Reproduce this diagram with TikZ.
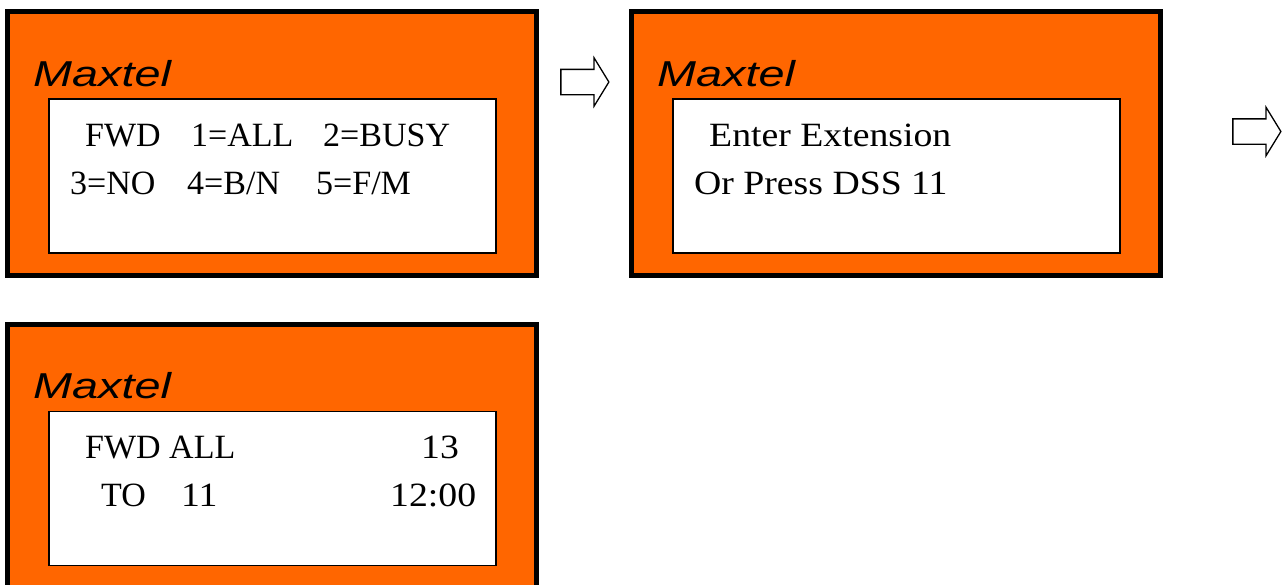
\documentclass[tikz,border=0pt]{standalone}
\usepackage{fontspec}
\setmainfont{Liberation Serif}
\newfontfamily\lcdfont[FakeStretch=1.0]{Liberation Serif}
\newfontfamily\lcdwidefont[FakeStretch=1.11]{Liberation Serif}
\newfontfamily\brandfont[FakeStretch=1.3]{Liberation Sans}
\usetikzlibrary{positioning,shapes.arrows}
\definecolor{phone}{HTML}{FF6600}
\tikzset{
    panel/.style =  {rectangle,
                    fill=phone,
                    draw=black,
                    line width=5pt,
                    minimum width=529pt,
                    minimum height=264pt},
    screen/.style = {rectangle,
                    fill=white,
                    draw=black,
                    line width=1.3pt,
                    minimum width=447pt,
                    minimum height=154pt},
    brand/.style =  {inner sep=0pt,
                    anchor=base west,
                    font=\brandfont\itshape\fontsize{36}{36}\selectfont},
    lcd/.style =    {inner sep=0pt,
                    anchor=base west,
                    font=\lcdfont\fontsize{34}{34}\selectfont},
    lcdwide/.style = {lcd,
                    font=\lcdwidefont\fontsize{34}{34}\selectfont},
    next/.style =   {single arrow,
                    fill=white,
                    draw=black,
                    line width=1.3pt,
                    inner sep=12pt,
                    minimum height=48pt,
                    single arrow head extend=11.5pt,
                    single arrow tip angle=117}
}
\begin{document}
\begin{tikzpicture}[x=1pt,y=-1pt]
    \path[use as bounding box,clip] (0,0) rectangle (1282,584);
    \node[panel]    (panelA) at (271.5,143.5)       {};
    \node[panel]    (panelB) [right=90pt of panelA] {};
    \node[panel]    (panelC) [below=43.5pt of panelA] {};
    \node[screen]   (screenA) at (272.5,176)        {};
    \node[screen]   (screenB) at (896.5,176)        {};
    \node[screen]   (screenC) at (272.5,488.5)      {};
    \node[next]     (nextA) at (581,82)             {};
    \node[next]     (nextB) at (1253,131.5)         {};
    % labels
    \node[brand]    (brandA) at (33,86)             {Maxtel};
    \node[brand]    (brandB) at (657,86)            {Maxtel};
    \node[brand]    (brandC) at (33,398.5)          {Maxtel};
    \node[lcd]      (fwd)  at (85,146)              {FWD};
    \node[lcd]      (all)  at (191,146)             {1=ALL};
    \node[lcd]      (busy) at (323,146)             {2=BUSY};
    \node[lcd]      (no)   at (70,194)              {3=NO};
    \node[lcd]      (bn)   at (187,194)             {4=B/N};
    \node[lcd]      (fm)   at (316,194)             {5=F/M};
    \node[lcdwide]  (ext)  at (709,146)             {Enter Extension};
    \node[lcdwide]  (dss)  at (694,194)             {Or Press DSS 11};
    \node[lcd]      (fwdall) at (85,458.5)          {FWD ALL};
    \node[lcdwide]  (day)  at (421,458.5)           {13};
    \node[lcd]      (to)   at (101,506.5)           {TO};
    \node[lcdwide]  (dest) at (181,506.5)           {11};
    \node[lcdwide]  (time) at (390,506.5)           {12:00};
\end{tikzpicture}
\end{document}
